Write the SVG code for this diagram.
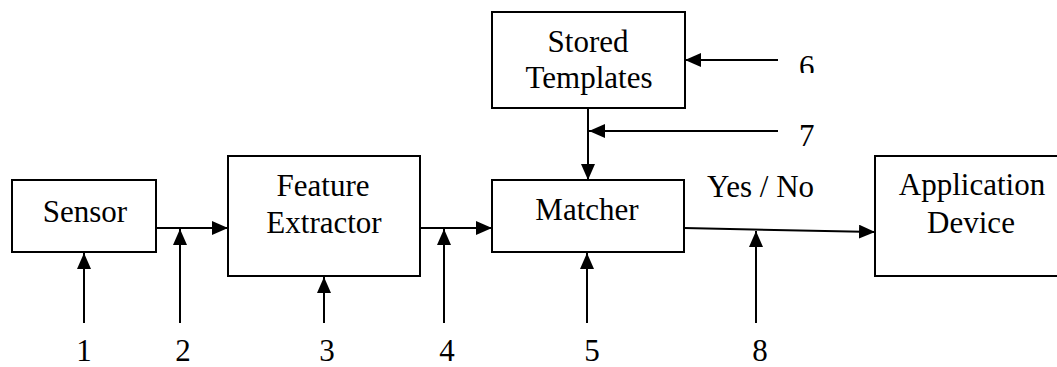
<svg xmlns="http://www.w3.org/2000/svg" width="1057" height="367" viewBox="0 0 1057 367">
  <style>
    .box { fill: #ffffff; stroke: #000000; stroke-width: 2; }
    .wire { fill: none; stroke: #000000; stroke-width: 2; }
    .lbl { font-family: 'Liberation Serif', 'Times New Roman', serif; font-size: 31px; fill: #000000; }
    .mid { text-anchor: middle; }
  </style>
  <defs>
    <marker id="arrow" viewBox="0 0 16 14" refX="16" refY="7" markerWidth="16" markerHeight="14" markerUnits="userSpaceOnUse" orient="auto">
      <path d="M0,0 L16,7 L0,14 Z" fill="#000000"/>
    </marker>
    <clipPath id="clip6">
      <rect x="780" y="40" width="60" height="33"/>
    </clipPath>
  </defs>
  <rect width="1057" height="367" fill="#ffffff"/>

  <!-- connectors -->
  <g id="connectors">
    <line class="wire" x1="156" y1="228" x2="228" y2="228" marker-end="url(#arrow)"/>
    <line class="wire" x1="420" y1="228" x2="492" y2="228" marker-end="url(#arrow)"/>
    <line class="wire" x1="684" y1="228" x2="875" y2="232" marker-end="url(#arrow)"/>
    <line class="wire" x1="588" y1="108" x2="588" y2="180" marker-end="url(#arrow)"/>
    <line class="wire" x1="778" y1="60" x2="685" y2="60" marker-end="url(#arrow)"/>
    <line class="wire" x1="778" y1="131" x2="589" y2="131" marker-end="url(#arrow)"/>
    <line class="wire" x1="84" y1="323" x2="84" y2="253" marker-end="url(#arrow)"/>
    <line class="wire" x1="180" y1="323" x2="180" y2="229" marker-end="url(#arrow)"/>
    <line class="wire" x1="324" y1="323" x2="324" y2="277" marker-end="url(#arrow)"/>
    <line class="wire" x1="444" y1="323" x2="444" y2="229" marker-end="url(#arrow)"/>
    <line class="wire" x1="587" y1="323" x2="587" y2="253" marker-end="url(#arrow)"/>
    <line class="wire" x1="756" y1="323" x2="756" y2="231" marker-end="url(#arrow)"/>
  </g>

  <g id="sensor">
    <rect class="box" x="12" y="180" width="144" height="72"/>
    <text class="lbl mid" x="85" y="222">Sensor</text>
  </g>

  <g id="feature-extractor">
    <rect class="box" x="228" y="156" width="192" height="120"/>
    <text class="lbl mid" x="323" y="196">Feature</text>
    <text class="lbl mid" x="324" y="233">Extractor</text>
  </g>

  <g id="matcher">
    <rect class="box" x="492" y="180" width="192" height="72"/>
    <text class="lbl mid" x="587" y="220">Matcher</text>
  </g>

  <g id="stored-templates">
    <rect class="box" x="492" y="12" width="193" height="96"/>
    <text class="lbl mid" x="588" y="52">Stored</text>
    <text class="lbl mid" x="589" y="88">Templates</text>
  </g>

  <g id="application-device">
    <rect class="box" x="875" y="156" width="192" height="120"/>
    <text class="lbl mid" x="972" y="195">Application</text>
    <text class="lbl mid" x="971" y="233">Device</text>
  </g>

  <!-- numbered attack points and output label -->
  <g id="labels">
    <text class="lbl" x="707" y="197">Yes / No</text>
    <text class="lbl" x="799" y="77" clip-path="url(#clip6)">6</text>
    <text class="lbl" x="799" y="146">7</text>
    <text class="lbl mid" x="84" y="361">1</text>
    <text class="lbl mid" x="183" y="361">2</text>
    <text class="lbl mid" x="327" y="361">3</text>
    <text class="lbl mid" x="447" y="361">4</text>
    <text class="lbl mid" x="592" y="361">5</text>
    <text class="lbl mid" x="760" y="361">8</text>
  </g>
</svg>
